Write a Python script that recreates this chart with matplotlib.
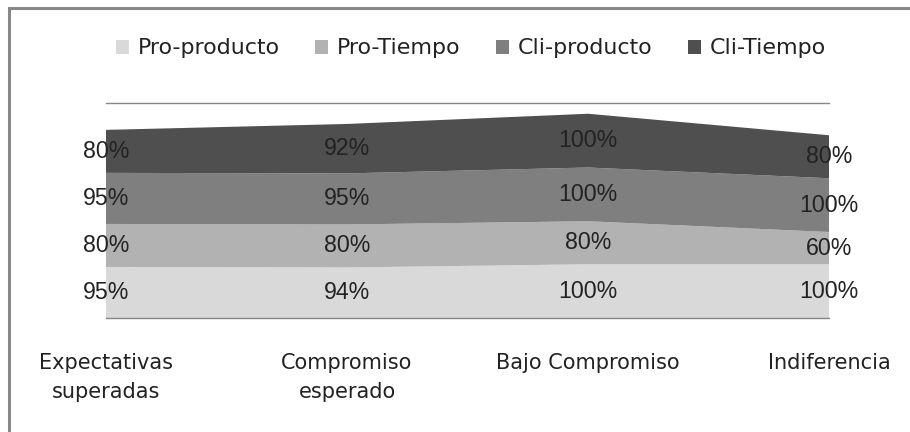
import numpy as np
import matplotlib.pyplot as plt
from matplotlib.patches import Patch, Rectangle

categorias = ['Expectativas\nsuperadas', 'Compromiso\nesperado', 'Bajo Compromiso', 'Indiferencia']
series = ['Pro-producto', 'Pro-Tiempo', 'Cli-producto', 'Cli-Tiempo']
pro_producto = [95, 94, 100, 100]
pro_tiempo = [80, 80, 80, 60]
cli_producto = [95, 95, 100, 100]
cli_tiempo = [80, 92, 100, 80]

colores = ['#d9d9d9', '#b2b2b2', '#7f7f7f', '#4f4f4f']
gris = '#868686'
texto = '#222222'

valores = np.array([pro_producto, pro_tiempo, cli_producto, cli_tiempo], dtype=float)
x = np.arange(len(categorias))

fig = plt.figure(figsize=(9.1, 4.32), dpi=100)
W, H = 910, 432

# marco exterior del grafico
fig.patches.append(Rectangle((8.5 / W, -0.1), 1.2, 1.1 - 8.5 / H, transform=fig.transFigure,
                             fill=False, edgecolor='#888888', linewidth=2.2))

ax = fig.add_axes([106 / W, 1 - 318 / H, (829 - 106) / W, (318 - 103) / H])
ax.stackplot(x, valores, colors=colores, linewidth=0)
ax.set_xlim(0, 3)
ax.set_ylim(0, 400)

for s in ['left', 'right']:
    ax.spines[s].set_visible(False)
for s in ['top', 'bottom']:
    ax.spines[s].set_color(gris)
    ax.spines[s].set_linewidth(1)
ax.set_yticks([])
ax.set_xticks(x, categorias, fontsize=15, family='DejaVu Sans', color=texto, linespacing=1.6)
ax.tick_params(axis='x', length=0, pad=25)

# etiquetas de porcentaje en el centro de cada banda
base = np.zeros(len(categorias))
for fila in valores:
    for i, v in enumerate(fila):
        ax.text(x[i], base[i] + v / 2, f'{v:.0f}%', ha='center', va='center',
                fontsize=16.7, family='Liberation Sans', color=texto, clip_on=False)
    base += fila

handles = [Patch(facecolor=c, edgecolor='none') for c in colores]
fig.legend(handles, series, loc='center', bbox_to_anchor=(471 / W, 1 - 48.5 / H), ncol=4,
           frameon=False, prop={'family': 'DejaVu Sans', 'size': 15.9},
           handlelength=0.6, handleheight=0.6, handletextpad=0.4, columnspacing=1.6,
           labelcolor=texto)

fig.savefig('out.png', dpi=100)
